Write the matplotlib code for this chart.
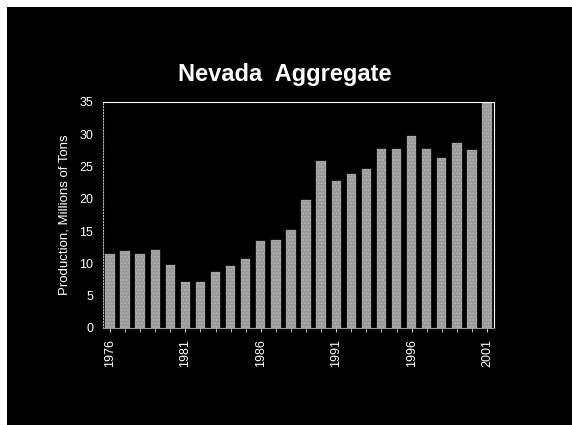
import matplotlib.pyplot as plt
from matplotlib.patches import Rectangle

plt.rcParams['font.family'] = ['Liberation Sans', 'DejaVu Sans']
plt.rcParams['hatch.color'] = '#eeeeee'
plt.rcParams['hatch.linewidth'] = 0.6

years = list(range(1976, 2002))
production = [11.5, 11.9, 11.4, 12.1, 9.7, 7.2, 7.2, 8.7, 9.6, 10.7, 13.5, 13.7, 15.2,
              19.8, 25.9, 22.8, 23.8, 24.7, 27.7, 27.7, 29.8, 27.7, 26.3, 28.7, 27.6, 35.0]
tick_years = [1976, 1981, 1986, 1991, 1996, 2001]
y_ticks = [0, 5, 10, 15, 20, 25, 30, 35]

fig = plt.figure(figsize=(5.72, 4.25), dpi=100)
fig.patch.set_facecolor('black')
# white strips along the left and top edge of the scan
fig.patches.append(Rectangle((0, 0), 7 / 572, 1, transform=fig.transFigure,
                             facecolor='white', edgecolor='none'))
fig.patches.append(Rectangle((0, 1 - 7 / 425), 1, 7 / 425, transform=fig.transFigure,
                             facecolor='white', edgecolor='none'))

ax = fig.add_axes([103 / 572, 97 / 425, 391 / 572, 226 / 425])
ax.set_zorder(2)
ax.set_facecolor('black')
ax.bar(years, production, width=0.62, color='#9a9a9a', edgecolor='#b8b8b8',
       linewidth=0.2, hatch='.....')

ax.set_xlim(1975.54, 2001.46)
ax.set_ylim(0, 35)
ax.set_yticks(y_ticks)
ax.set_xticks(tick_years)
ax.set_xticks(years, minor=True)
ax.tick_params(axis='x', which='both', colors='#cccccc', length=3, direction='out')
ax.tick_params(axis='x', labelrotation=90, labelsize=9, labelcolor='white', pad=5)
ax.tick_params(axis='y', colors='white', labelsize=9, length=0, pad=7)

ax.spines['left'].set_color('#bbbbbb')
ax.spines['left'].set_linestyle(':')
ax.spines['bottom'].set_color('#999999')
ax.spines['top'].set_color('white')
ax.spines['right'].set_color('white')

ax.set_ylabel('Production, Millions of Tons', color='white', fontsize=9.5, labelpad=6)

fig.text(285 / 572, 1 - 75 / 425, 'Nevada  Aggregate', color='white', fontsize=17,
         fontweight='bold', ha='center', va='center')

fig.savefig('out.png', dpi=100, facecolor=fig.get_facecolor())
